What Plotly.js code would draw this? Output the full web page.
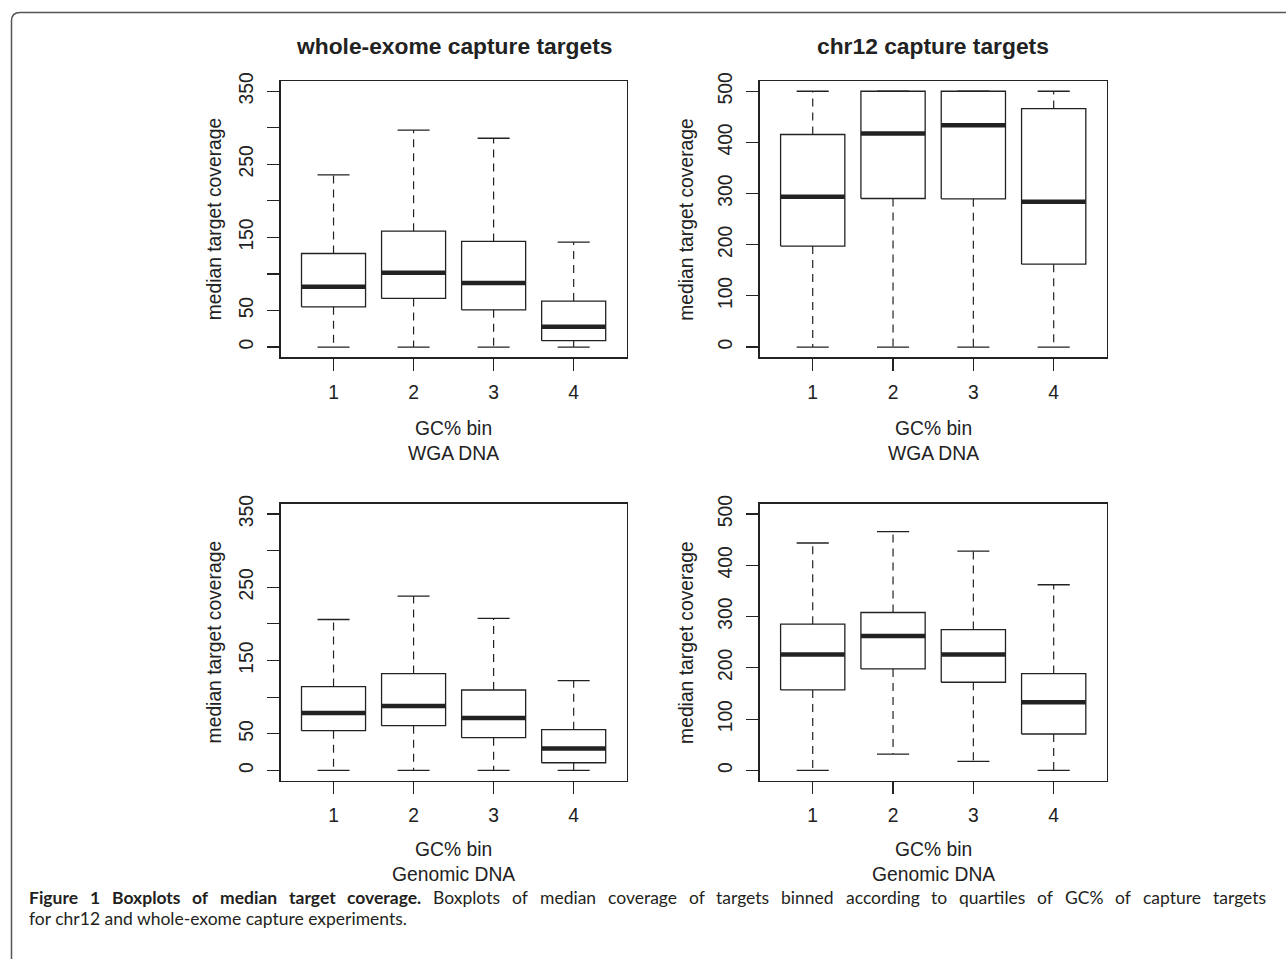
<!DOCTYPE html>
<html>
<head>
<meta charset="utf-8">
<script src="https://cdn.plot.ly/plotly-3.0.1.min.js"></script>
<style>html,body{margin:0;padding:0;background:#fff;}#chart{width:1286px;height:959px;}</style>
</head>
<body>
<div id="chart"></div>
<script>
// ---- data ----
const gcBins = [1, 2, 3, 4];
const gcBinLabels = ['1', '2', '3', '4'];

// WGA DNA, whole-exome capture targets
const wgaExomeLower = [0, 0, 0, 0];
const wgaExomeQ1 = [55.1, 66.5, 51.0, 8.7];
const wgaExomeMedian = [82.5, 101.6, 87.5, 27.8];
const wgaExomeQ3 = [128.0, 158.6, 144.5, 62.9];
const wgaExomeUpper = [235.6, 296.7, 285.7, 143.6];

// WGA DNA, chr12 capture targets
const wgaChr12Lower = [0, 0, 0, 0];
const wgaChr12Q1 = [197.3, 290.4, 289.7, 162.1];
const wgaChr12Median = [293.6, 417.3, 433.6, 283.9];
const wgaChr12Q3 = [415.4, 500, 500, 466.1];
const wgaChr12Upper = [500, 500, 500, 500];

// Genomic DNA, whole-exome capture targets
const genExomeLower = [0, 0, 0, 0];
const genExomeQ1 = [54.2, 61.1, 44.7, 10.5];
const genExomeMedian = [78.4, 88.0, 71.5, 30.1];
const genExomeQ3 = [114.4, 132.2, 109.8, 55.6];
const genExomeUpper = [206.0, 237.9, 207.4, 122.6];

// Genomic DNA, chr12 capture targets
const genChr12Lower = [0, 31.9, 17.6, 0];
const genChr12Q1 = [156.9, 197.9, 171.9, 71.0];
const genChr12Median = [225.9, 262.3, 225.9, 132.8];
const genChr12Q3 = [285.2, 307.9, 274.7, 188.8];
const genChr12Upper = [443.4, 465.5, 427.7, 362.0];

const exomeTickVals = [0, 50, 100, 150, 200, 250, 300, 350];
const exomeTickText = ['0', '50', '', '150', '', '250', '', '350'];
const chr12TickVals = [0, 100, 200, 300, 400, 500];
const chr12TickText = ['0', '100', '200', '300', '400', '500'];

const panelTitles = ['whole-exome capture targets', 'chr12 capture targets'];
const xTitleTop = 'GC% bin<br>WGA DNA';
const xTitleBottom = 'GC% bin<br>Genomic DNA';
const yTitle = 'median target coverage';

const captionBold = 'Figure 1 Boxplots of median target coverage.';
const captionLine1 = 'Boxplots of median coverage of targets binned according to quartiles of GC% of capture targets';
const captionLine2 = 'for chr12 and whole-exome capture experiments.';

// ---- drawing ----
const INK = '#222';
const boxHalf = 0.4, stapleHalf = 0.2;

function panelTraces(lower, q1, med, q3, upper, xa, ya) {
  const wx = [], wy = [], sx = [], sy = [], bx = [], by = [], mx = [], my = [];
  gcBins.forEach((b, i) => {
    wx.push(b, b, null, b, b, null);
    wy.push(q3[i], upper[i], null, q1[i], lower[i], null);
    sx.push(b - stapleHalf, b + stapleHalf, null, b - stapleHalf, b + stapleHalf, null);
    sy.push(upper[i], upper[i], null, lower[i], lower[i], null);
    bx.push(b - boxHalf, b + boxHalf, b + boxHalf, b - boxHalf, b - boxHalf, null);
    by.push(q1[i], q1[i], q3[i], q3[i], q1[i], null);
    mx.push(b - boxHalf, b + boxHalf, null);
    my.push(med[i], med[i], null);
  });
  const common = {type: 'scatter', mode: 'lines', xaxis: xa, yaxis: ya, hoverinfo: 'skip', showlegend: false};
  return [
    Object.assign({x: wx, y: wy, line: {color: INK, width: 1.2, dash: '8px,6px'}}, common),
    Object.assign({x: sx, y: sy, line: {color: INK, width: 1.3}}, common),
    Object.assign({x: bx, y: by, line: {color: INK, width: 1.3}}, common),
    Object.assign({x: mx, y: my, line: {color: INK, width: 4.5}}, common)
  ];
}

const traces = [].concat(
  panelTraces(wgaExomeLower, wgaExomeQ1, wgaExomeMedian, wgaExomeQ3, wgaExomeUpper, 'x', 'y'),
  panelTraces(wgaChr12Lower, wgaChr12Q1, wgaChr12Median, wgaChr12Q3, wgaChr12Upper, 'x2', 'y2'),
  panelTraces(genExomeLower, genExomeQ1, genExomeMedian, genExomeQ3, genExomeUpper, 'x3', 'y3'),
  panelTraces(genChr12Lower, genChr12Q1, genChr12Median, genChr12Q3, genChr12Upper, 'x4', 'y4')
);

const W = 1286, H = 959;
const px = v => v / W;
const py = v => 1 - v / H;

const colL = [280.7, 626.5], colR = [759.7, 1106.7];
const rowT = [81, 357.3], rowB = [503.7, 780.7];

const FAM = 'Liberation Sans, Arial, sans-serif';
const FS = 19.3;
const tickFont = {family: FAM, size: FS, color: INK};

function xAxis(dom, anchor) {
  return {
    domain: [px(dom[0]), px(dom[1])], anchor: anchor,
    range: [0.34, 4.66], tickmode: 'array', tickvals: gcBins, ticktext: gcBinLabels,
    showgrid: false, zeroline: false, showline: true, mirror: true,
    linecolor: INK, linewidth: 1.4, ticks: 'outside', ticklen: 12, tickwidth: 1.2, tickcolor: INK,
    tickfont: tickFont, ticklabelstandoff: 5, fixedrange: true
  };
}
function yAxis(dom, anchor, range, tv, tt) {
  return {
    domain: [py(dom[1]), py(dom[0])], anchor: anchor,
    range: range, tickmode: 'array', tickvals: tv, ticktext: tt, tickangle: -90,
    showgrid: false, zeroline: false, showline: true, mirror: true,
    linecolor: INK, linewidth: 1.4, ticks: 'outside', ticklen: 12, tickwidth: 1.2, tickcolor: INK,
    tickfont: tickFont, ticklabelstandoff: 7, fixedrange: true
  };
}

const annotations = [];
const textFont = {family: FAM, size: FS, color: INK};
[[colL, rowT, xTitleTop, 66.5, 84], [colR, rowT, xTitleTop, 74, 84], [colL, rowB, xTitleBottom, 66.5, 81.5], [colR, rowB, xTitleBottom, 74, 81.5]].forEach(([c, r, t, off, dy], i) => {
  const cx = (c[0] + c[1]) / 2, cy = (r[0] + r[1]) / 2;
  annotations.push({xref: 'paper', yref: 'paper', x: px(cx), y: py(r[1] + dy), text: t, showarrow: false,
    xanchor: 'center', yanchor: 'middle', font: textFont});
  annotations.push({xref: 'paper', yref: 'paper', x: px(c[0] - off), y: py(cy), text: yTitle, showarrow: false,
    textangle: -90, xanchor: 'center', yanchor: 'middle', font: textFont});
  if (i < 2) {
    annotations.push({xref: 'paper', yref: 'paper', x: px(cx), y: py(46), text: '<b>' + panelTitles[i] + '</b>', showarrow: false,
      xanchor: 'center', yanchor: 'middle', font: {family: FAM, size: 22.8, color: INK}});
  }
});

// caption: first line justified between left and right edges (word-by-word placement)
const CAP_FAM = 'Lato', CAP_SIZE = 17.5, CAP_COLOR = '#231f20';
const capLeft = 29, capRight = 1266;
const ctx = document.createElement('canvas').getContext('2d');
const words = [];
captionBold.split(' ').forEach(w => words.push({t: w, b: true}));
captionLine1.split(' ').forEach(w => words.push({t: w, b: false}));
words.forEach(w => { ctx.font = (w.b ? 'bold ' : '') + CAP_SIZE + 'px ' + CAP_FAM; w.w = ctx.measureText(w.t).width; });
const totalW = words.reduce((s, w) => s + w.w, 0);
const gap = (capRight - capLeft - totalW) / (words.length - 1);
let cursor = capLeft;
words.forEach(w => {
  annotations.push({xref: 'paper', yref: 'paper', x: px(cursor), y: py(897), xanchor: 'left', yanchor: 'middle', showarrow: false,
    text: w.b ? '<b>' + w.t + '</b>' : w.t, font: {family: CAP_FAM, size: CAP_SIZE, color: CAP_COLOR}, borderpad: 0, borderwidth: 0});
  cursor += w.w + gap;
});
annotations.push({xref: 'paper', yref: 'paper', x: px(capLeft), y: py(918), xanchor: 'left', yanchor: 'middle', showarrow: false,
  text: captionLine2, font: {family: CAP_FAM, size: CAP_SIZE, color: CAP_COLOR}, borderpad: 0, borderwidth: 0});

const layout = {
  width: W, height: H, margin: {l: 0, r: 0, t: 0, b: 0},
  paper_bgcolor: '#fff', plot_bgcolor: '#fff', showlegend: false,
  xaxis: xAxis(colL, 'y'), yaxis: yAxis(rowT, 'x', [-14, 364], exomeTickVals, exomeTickText),
  xaxis2: xAxis(colR, 'y2'), yaxis2: yAxis(rowT, 'x2', [-20, 520], chr12TickVals, chr12TickText),
  xaxis3: xAxis(colL, 'y3'), yaxis3: yAxis(rowB, 'x3', [-14, 364], exomeTickVals, exomeTickText),
  xaxis4: xAxis(colR, 'y4'), yaxis4: yAxis(rowB, 'x4', [-20, 520], chr12TickVals, chr12TickText),
  annotations: annotations,
  shapes: [{type: 'path', xref: 'paper', yref: 'paper',
    path: 'M ' + px(11.5) + ',' + py(959) + ' L ' + px(11.5) + ',' + py(21) + ' Q ' + px(11.5) + ',' + py(12.5) + ' ' + px(20) + ',' + py(12.5) + ' L ' + px(1286) + ',' + py(12.5),
    line: {color: '#555', width: 1.5}}]
};

Plotly.newPlot('chart', traces, layout, {staticPlot: true, displayModeBar: false});
</script>
</body>
</html>
